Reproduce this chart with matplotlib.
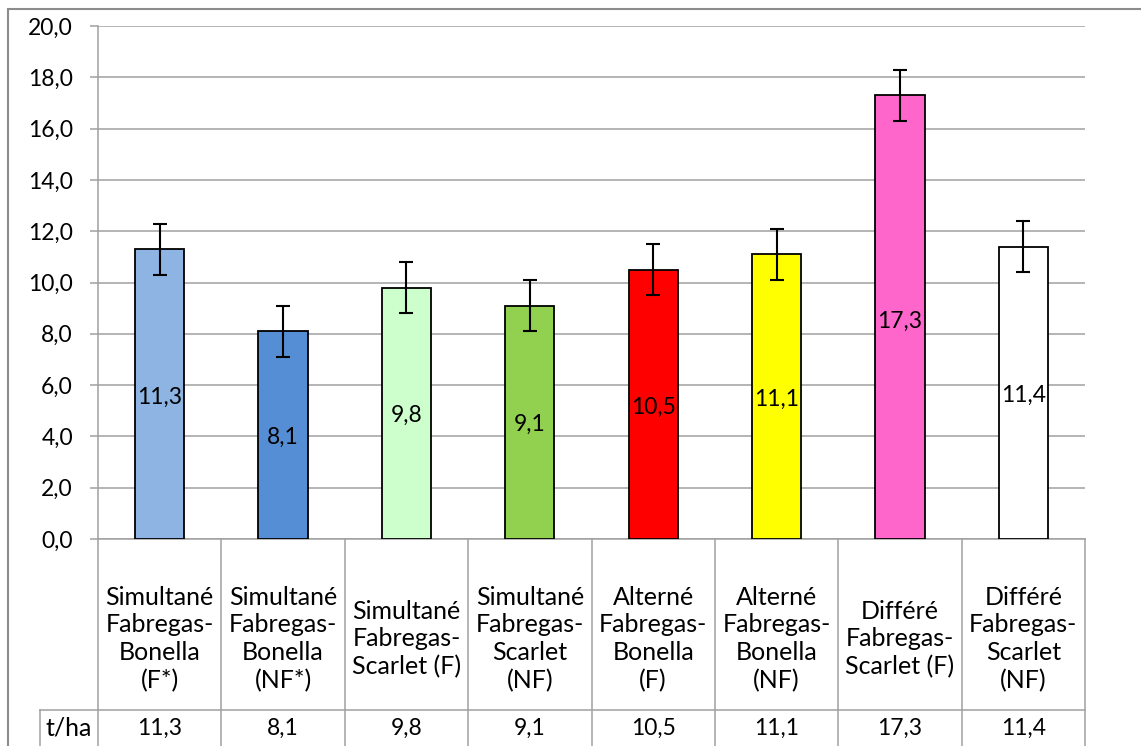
import matplotlib.pyplot as plt
from matplotlib.patches import Rectangle

plt.rcParams['font.family'] = ['Lato', 'DejaVu Sans']

# data
categories = ["Simultané\nFabregas-\nBonella\n(F*)",
              "Simultané\nFabregas-\nBonella\n(NF*)",
              "Simultané\nFabregas-\nScarlet (F)",
              "Simultané\nFabregas-\nScarlet\n(NF)",
              "Alterné\nFabregas-\nBonella\n(F)",
              "Alterné\nFabregas-\nBonella\n(NF)",
              "Différé\nFabregas-\nScarlet (F)",
              "Différé\nFabregas-\nScarlet\n(NF)"]
values = [11.3, 8.1, 9.8, 9.1, 10.5, 11.1, 17.3, 11.4]
errors = [1.0, 1.0, 1.0, 1.0, 1.0, 1.0, 1.0, 1.0]
colors = ['#8EB4E3', '#558ED5', '#CCFFCC', '#92D050',
          '#FF0000', '#FFFF00', '#FF66CC', '#FFFFFF']
row_label = "t/ha"

W, H = 1141, 746
fig = plt.figure(figsize=(W / 100, H / 100), dpi=100)
ax = fig.add_axes([98 / W, 1 - 539 / H, (1085 - 98) / W, (539 - 26) / H])

grid_c = '#A0A0A0'
fs_num = 16.5
fs_txt = 18


def fmt(v):
    return f"{v:.1f}".replace('.', ',')


# outer chart border (cropped at right/bottom)
fig.patches.append(Rectangle((8 / W, -0.1), 1.2, 1 - 9 / H + 0.1,
                             transform=fig.transFigure, fill=False,
                             edgecolor='#8C8C8C', linewidth=1.5))

x = range(len(values))
ax.bar(x, values, width=0.4, color=colors, edgecolor='black', linewidth=1.3, zorder=3)
ax.errorbar(x, values, yerr=errors, fmt='none', ecolor='black',
            elinewidth=1.5, capsize=5, capthick=1.5, zorder=4)
for i, v in enumerate(values):
    ax.text(i, v * 0.49, fmt(v), ha='center', va='center',
            fontsize=fs_num, zorder=5)

ax.set_xlim(-0.5, len(values) - 0.5)
ax.set_ylim(0, 20)
ticks = [i * 2 for i in range(11)]
ax.set_yticks(ticks)
ax.set_yticklabels([fmt(t) for t in ticks], fontsize=fs_num)
ax.tick_params(axis='y', length=6, width=1.1, color=grid_c, pad=12)
ax.set_xticks([])
ax.yaxis.grid(True, color=grid_c, linewidth=1.1, zorder=0)
for s in ['top', 'right', 'bottom']:
    ax.spines[s].set_visible(False)
ax.spines['left'].set_color(grid_c)
ax.spines['left'].set_linewidth(1.1)
ax.set_axisbelow(True)

# data table below the axis
tr = ax.get_xaxis_transform()
ax_h = 539 - 26
row1 = -(710 - 539) / ax_h
row2 = -(760 - 539) / ax_h
lab_w = (98 - 40) / ((1085 - 98) / len(values))
n = len(values)
for k in range(n + 1):
    ax.plot([k - 0.5, k - 0.5], [0, row2], transform=tr, color=grid_c,
            linewidth=1.1, clip_on=False)
ax.plot([-0.5 - lab_w, n - 0.5], [row1, row1], transform=tr, color=grid_c,
        linewidth=1.1, clip_on=False)
ax.plot([-0.5 - lab_w, -0.5 - lab_w], [row1, row2], transform=tr, color=grid_c,
        linewidth=1.1, clip_on=False)
ax.plot([-0.5, n - 0.5], [0, 0], transform=tr, color=grid_c,
        linewidth=1.1, clip_on=False)

cat_y = -(639 - 539) / ax_h
val_y = -(728 - 539) / ax_h
for i, (c, v) in enumerate(zip(categories, values)):
    ax.text(i, cat_y, c, transform=tr, ha='center', va='center',
            fontsize=fs_txt, linespacing=1.25)
    ax.text(i, val_y, fmt(v), transform=tr,
            ha='center', va='center', fontsize=fs_num)
ax.text(-0.5 - lab_w / 2, val_y, row_label, transform=tr, ha='center',
        va='center', fontsize=fs_txt)

fig.savefig('out.png', dpi=100)
